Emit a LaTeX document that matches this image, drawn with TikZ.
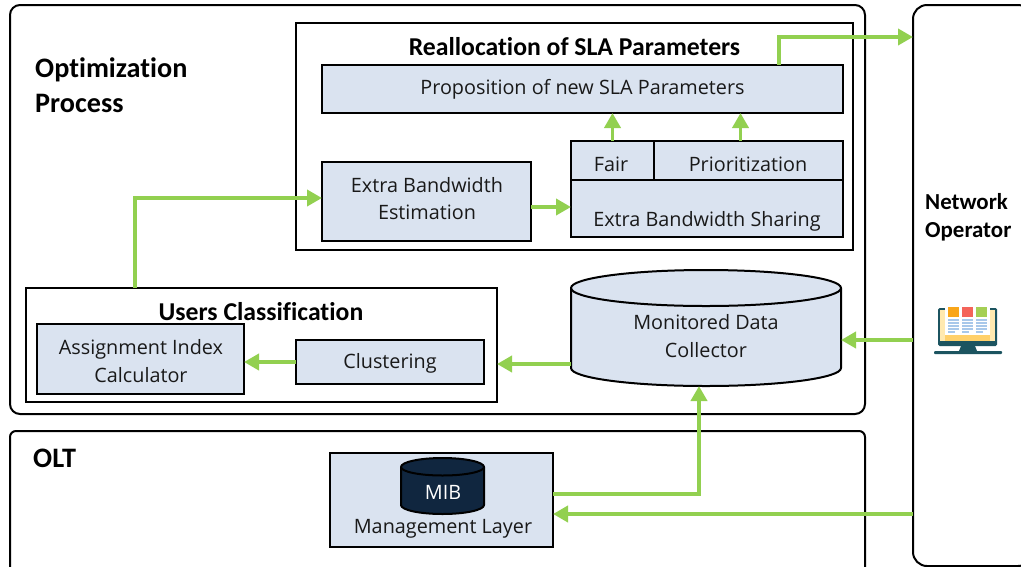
\documentclass[tikz,border=0pt]{standalone}
\usepackage{fontspec}
\setmainfont{Open Sans}
\newfontfamily\titlefont{Carlito}[BoldFont={Carlito Bold},Ligatures=NoCommon]
\usetikzlibrary{arrows.meta}
\definecolor{boxfill}{HTML}{DAE3F0}
\definecolor{flow}{HTML}{92D050}
\definecolor{navy}{HTML}{10263F}
\definecolor{ictea}{HTML}{1C5460}
\definecolor{icyel}{HTML}{FFE9B0}
\definecolor{icgold}{HTML}{FFD06A}
\definecolor{icor}{HTML}{F9A61A}
\definecolor{icred}{HTML}{F4645A}
\definecolor{icgrn}{HTML}{A5CF55}
\definecolor{icblu}{HTML}{A8C8EA}
\tikzset{
  x=1pt,y=-1pt,
  bxs/.style={draw=black,line width=2pt,outer sep=0pt,inner sep=0pt},
  box/.style={bxs,fill=boxfill,align=center,font=\fontsize{19.8}{27.5}\selectfont,text=black!90},
  frame/.style={bxs,fill=none},
  panel/.style={bxs,fill=none,line width=2pt,rounded corners=#1},
  title/.style={inner sep=0pt,font=\titlefont\fontsize{25.7}{35}\selectfont\bfseries,align=left},
  lbl/.style={inner sep=0pt,align=center,font=\fontsize{19.8}{27.5}\selectfont,text=black!90},
  link/.style={draw=flow,line width=3.8pt,-{Triangle[length=15pt,width=16pt]}},
}
\newcommand{\bx}[6][box]{\node[#1,minimum width={(#4-#2)*1pt},minimum height={(#5-#3)*1pt}] at ({(#2+#4)/2},{(#3+#5)/2}) #6}
\begin{document}
\begin{tikzpicture}
\useasboundingbox (0,0) rectangle (1021,566);
\clip (0,0) rectangle (1021,566);
\fill[white] (0,0) rectangle (1021,566);
% outer panels
\bx[{panel=10pt}]{10}{5}{865}{414}{(opt) {};};
\bx[{panel=6pt}]{10}{431}{865}{600}{(olt) {};};
\bx[{panel=14pt}]{913}{5}{1032}{566}{(netop) {};};
% inner frames
\bx[frame]{296}{23}{853}{250}{(realloc) {};};
\bx[frame]{26}{288}{497}{402}{(users) {};};
% boxes
\bx{322}{65}{843}{113}{(prop) {Proposition of new SLA Parameters};};
\bx{322}{162}{531}{241}{(eb) {};};
\bx{571}{180}{843}{237}{(share) {};};
\bx{571}{141}{654}{180}{(fair) {};};
\bx{654}{141}{843}{180}{(prior) {};};
\bx{37}{324}{244}{394}{(assign) {};};
\bx{296}{340}{484}{384}{(clust) {};};
\bx{330}{453}{553}{547}{(mgmt) {};};
\node[lbl] (fairtxt) at (611,164) {Fair};
\node[lbl] (priortxt) at (748,164) {Prioritization};
\node[lbl] (clusttxt) at (390,363) {Clustering};
\node[lbl] (ebtxt) at (427,198.5) {Extra Bandwidth\\Estimation};
\node[lbl] (assigntxt) at (141,361) {Assignment Index\\Calculator};
\node[lbl] (sharetxt) at (707,221) {Extra Bandwidth Sharing};
\node[lbl] (mgmttxt) at (443,529) {Management Layer};
% cylinders
\draw[fill=boxfill,draw=black,line width=2pt] (571,288) -- (571,368) arc[start angle=180,end angle=0,x radius=135,y radius=18] -- (841,288) arc[start angle=0,end angle=-180,x radius=135,y radius=18] -- cycle;
\draw[line width=2pt] (571,288) arc[start angle=180,end angle=0,x radius=135,y radius=18];
\node[outer sep=0pt,inner sep=0pt,minimum width=270pt,minimum height=117pt] (mdc) at (706,327.5) {};
\node[lbl] (mdctxt) at (706,336) {Monitored Data\\Collector};
\draw[fill=navy,draw=black,line width=2pt] (401,467) -- (401,505) arc[start angle=180,end angle=0,x radius=41.5,y radius=9] -- (484,467) arc[start angle=0,end angle=-180,x radius=41.5,y radius=9] -- cycle;
\draw[line width=2pt] (401,467) arc[start angle=180,end angle=0,x radius=41.5,y radius=8.5];
\node[lbl,text=white] (mib) at (443,492) {MIB};
% titles
\node[title,anchor=center] (treal) at (574.5,47) {Reallocation of SLA Parameters};
\node[title,anchor=center] (tusers) at (261,311.5) {Users Classification};
\node[title,anchor=west,font=\titlefont\fontsize{28.2}{35}\selectfont\bfseries] (topt) at (35,85) {Optimization\\Process};
\node[title,anchor=west,font=\titlefont\fontsize{28.2}{35}\selectfont\bfseries] (tolt) at (33,458) {OLT};
\node[title,anchor=west,font=\titlefont\fontsize{22.9}{28}\selectfont\bfseries] (tnet) at (925,217) {Network\\Operator};
% connectors
\draw[link] ([xshift=196.5pt]prop.north) |- (netop.west |- 0,37);
\draw[link] (fair.north) -- (fair.north |- prop.south);
\draw[link] ([xshift=-8pt]prior.north) -- ([xshift=-8pt]prior.north |- prop.south);
\draw[link] (eb.east |- 0,207) -- (share.west |- 0,207);
\draw[link] (users.north -| 135,0) |- (eb.west |- 0,198);
\draw[link] (mdc.west |- 0,364) -- (users.east |- 0,364);
\draw[link] (clust.west) -- (clust.west -| assign.east);
\draw[link] (netop.west |- 0,340) -- (mdc.east |- 0,340);
\draw[link] (mgmt.east |- 0,494) -| (mdc.south -| 699,0);
\draw[link] (netop.west |- 0,514) -- (mgmt.east |- 0,514);
% monitor icon
\fill[ictea,rounded corners=1.5pt] (938,308) rectangle (997,346);
\fill[ictea] (961,346) -- (975,346) -- (977,351) -- (959,351) -- cycle;
\fill[ictea,rounded corners=1pt] (934,351) rectangle (1002,354);
\fill[icyel] (940,310) rectangle (995,341);
\fill[icgold] (945,335) rectangle (990,341);
\fill[white] (945,306) rectangle (990,335);
\fill[icor] (948,307) rectangle (959,317);
\fill[icred] (962,307) rectangle (973,317);
\fill[icgrn] (976,307) rectangle (987,317);
\foreach \cx in {948,962,976}{
  \foreach \cy/\w in {319/11,322/11,325/11,328/11,331/7}{
    \fill[icblu] (\cx,\cy) rectangle (\cx+\w,\cy+1.6);
  }
}
\end{tikzpicture}
\end{document}
